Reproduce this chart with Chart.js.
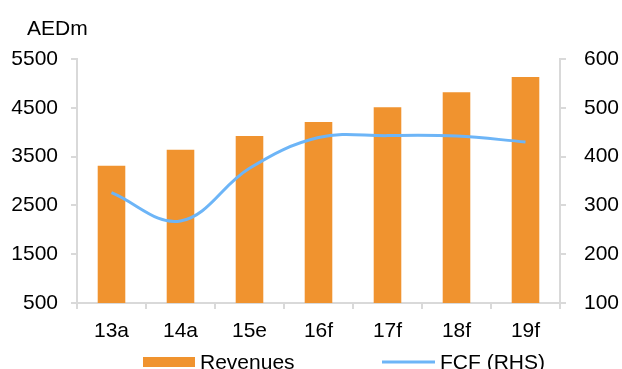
<!DOCTYPE html>
<html>
<head>
<meta charset="utf-8">
<script src="https://cdn.jsdelivr.net/npm/chart.js@4/dist/chart.umd.min.js"></script>
<style>
  html, body { margin: 0; padding: 0; background: #fff; }
  #wrap { width: 622px; height: 369px; }
</style>
</head>
<body>
<div id="wrap"><canvas id="c" width="622" height="369"></canvas></div>
<script>
// Years (a = actual, e = estimate, f = forecast)
const categories = ['13a', '14a', '15e', '16f', '17f', '18f', '19f'];
// Revenues, AED millions (left axis)
const revenues = [3310, 3640, 3920, 4210, 4510, 4820, 5130];
// Free cash flow, AED millions (right axis)
const fcf = [326, 268, 376, 439, 443, 442, 430];
const seriesNames = ['Revenues', 'FCF (RHS)'];
const unitLabel = 'AEDm';

const FONT = "'Liberation Sans', Arial, sans-serif";
const FONT_SIZE = 21;
const ORANGE = '#F0932F';
const BLUE = '#6DB5F7';
const AXIS = '#D9D9D9';

// Plain integers on both value axes (no thousands separator)
const plainNumber = v => String(v);

// Unit caption above the left axis
const unitCaption = {
  id: 'unitCaption',
  afterDraw(chart) {
    const ctx = chart.ctx;
    ctx.save();
    ctx.font = FONT_SIZE + 'px ' + FONT;
    ctx.fillStyle = '#000';
    ctx.textAlign = 'left';
    ctx.textBaseline = 'middle';
    ctx.fillText(unitLabel, 27, 29);
    ctx.restore();
  }
};

// Legend row under the axis: a block for the bars, a stroke for the line
const bottomLegend = {
  id: 'bottomLegend',
  afterDraw(chart) {
    const ctx = chart.ctx;
    const ds = chart.data.datasets;
    const y = 362;
    ctx.save();
    ctx.font = FONT_SIZE + 'px ' + FONT;
    ctx.textBaseline = 'middle';
    ctx.textAlign = 'left';
    // bar entry
    ctx.fillStyle = ds[0].backgroundColor;
    ctx.fillRect(143, y - 5, 52, 10);
    ctx.fillStyle = '#000';
    ctx.fillText(ds[0].label, 200, y + 1);
    // line entry
    ctx.strokeStyle = ds[1].borderColor;
    ctx.lineWidth = 3;
    ctx.beginPath();
    ctx.moveTo(382, y);
    ctx.lineTo(435, y);
    ctx.stroke();
    ctx.fillText(ds[1].label, 440, y + 1);
    ctx.restore();
  }
};

const tickFont = { family: FONT, size: FONT_SIZE };

new Chart(document.getElementById('c'), {
  data: {
    labels: categories,
    datasets: [
      {
        type: 'bar',
        label: seriesNames[0],
        data: revenues,
        backgroundColor: ORANGE,
        borderWidth: 0,
        categoryPercentage: 0.8,
        barPercentage: 0.5,
        yAxisID: 'y',
        order: 1
      },
      {
        type: 'line',
        label: seriesNames[1],
        data: fcf,
        borderColor: BLUE,
        backgroundColor: BLUE,
        borderWidth: 3,
        pointRadius: 0,
        tension: 0.38,
        fill: false,
        yAxisID: 'y1',
        order: 0
      }
    ]
  },
  options: {
    responsive: false,
    animation: false,
    devicePixelRatio: 1,
    layout: { padding: { top: 59, bottom: 26, left: 0, right: 0 } },
    plugins: {
      legend: { display: false },
      tooltip: { enabled: false },
      title: { display: false }
    },
    scales: {
      x: {
        grid: { display: true, drawOnChartArea: false, tickLength: 6, color: AXIS, lineWidth: 2, offset: true },
        border: { display: true, color: AXIS, width: 2 },
        ticks: { color: '#000', font: tickFont, padding: 10, maxRotation: 0 },
        afterFit(s) { s.height = 40; }
      },
      y: {
        position: 'left',
        min: 500,
        max: 5500,
        ticks: { stepSize: 1000, color: '#000', font: tickFont, padding: 13, callback: plainNumber },
        grid: { display: true, drawOnChartArea: false, tickLength: 6, color: AXIS, lineWidth: 2 },
        border: { display: true, color: AXIS, width: 2 },
        afterFit(s) { s.width = 77; }
      },
      y1: {
        position: 'right',
        min: 100,
        max: 600,
        ticks: { stepSize: 100, color: '#000', font: tickFont, padding: 18, callback: plainNumber },
        grid: { display: true, drawOnChartArea: false, tickLength: 6, color: AXIS, lineWidth: 2 },
        border: { display: true, color: AXIS, width: 2 },
        afterFit(s) { s.width = 62; }
      }
    }
  },
  plugins: [unitCaption, bottomLegend]
});
</script>
</body>
</html>
